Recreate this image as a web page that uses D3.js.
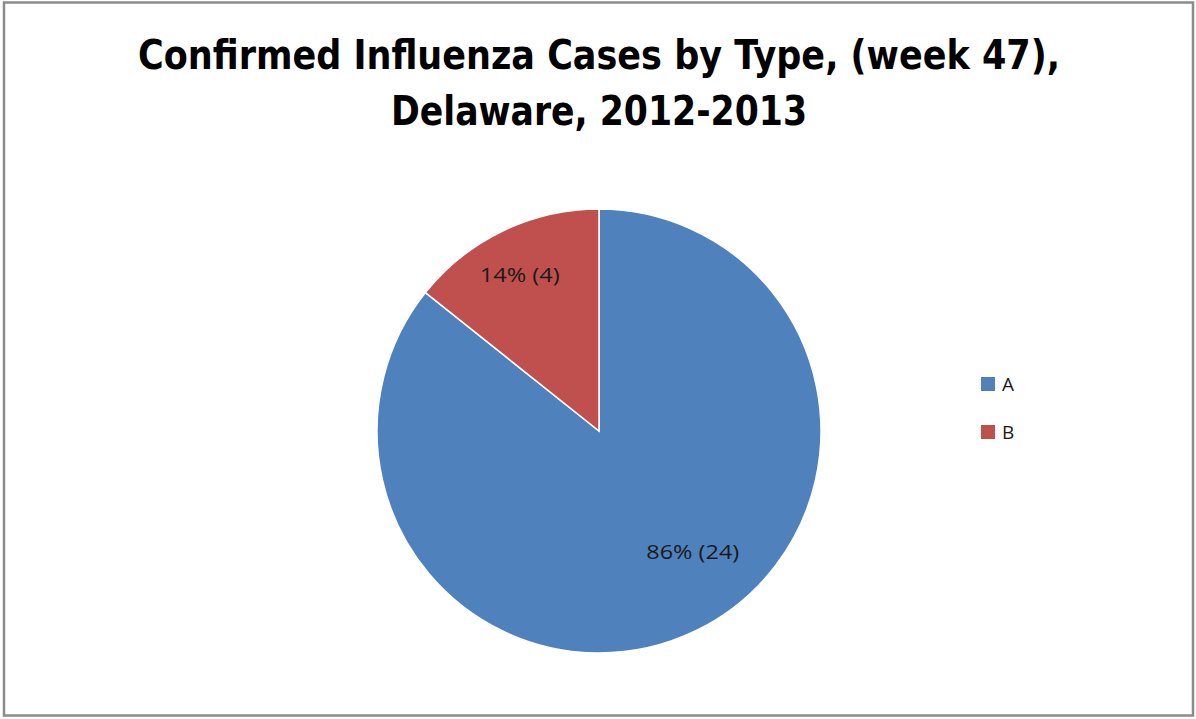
<!DOCTYPE html>
<html>
<head>
<meta charset="utf-8">
<script src="https://cdn.jsdelivr.net/npm/d3@7"></script>
<style>
  body { margin: 0; background: #fff; }
  svg { display: block; }
</style>
</head>
<body>
<svg id="chart" width="1196" height="719"></svg>
<script>
// chart values
const types = ['A', 'B'];
const cases = [24, 4];
const pctLabels = ['86% (24)', '14% (4)'];
const colors = ['#4F81BD', '#C0504D'];
const titleLines = ['Confirmed Influenza Cases by Type, (week 47),', 'Delaware, 2012-2013'];

const width = 1196, height = 719;
const svg = d3.select('#chart');

// outer frame
svg.append('rect')
  .attr('x', 4).attr('y', 2.5)
  .attr('width', 1189).attr('height', 713)
  .attr('fill', '#fff')
  .attr('stroke', '#8c8c8c')
  .attr('stroke-width', 2.5);

// title
const titleFont = '"Liberation Sans Narrow", "DejaVu Sans Condensed", "Open Sans", sans-serif';
const titleWidths = [922, 416];
svg.append('g').selectAll('text')
  .data(titleLines)
  .join('text')
  .attr('x', 599)
  .attr('y', (d, i) => 69 + i * 56)
  .attr('text-anchor', 'middle')
  .attr('font-family', titleFont)
  .attr('font-weight', 'bold')
  .attr('font-size', 41)
  .attr('fill', '#000')
  .attr('textLength', (d, i) => titleWidths[i])
  .attr('lengthAdjust', 'spacingAndGlyphs')
  .text(d => d);

// pie
const cx = 599, cy = 431, r = 222;
const pie = d3.pie().sort(null).value(d => d)(cases);
const arc = d3.arc().innerRadius(0).outerRadius(r);

const g = svg.append('g').attr('transform', `translate(${cx},${cy})`);
g.selectAll('path')
  .data(pie)
  .join('path')
  .attr('d', arc)
  .attr('fill', (d, i) => colors[i])
  .attr('stroke', '#fff')
  .attr('stroke-width', 1.5);

// data labels (Excel best fit-ish)
const labelRadius = [0.69, 0.79];
const labelTurn = [-0.21, -0.02];
const labelWidths = [93, 80];
g.selectAll('text.lbl')
  .data(pie)
  .join('text')
  .attr('class', 'lbl')
  .attr('transform', (d, i) => {
    const a = (d.startAngle + d.endAngle) / 2 + labelTurn[i];
    const rr = r * labelRadius[i];
    return `translate(${Math.sin(a) * rr},${-Math.cos(a) * rr})`;
  })
  .attr('text-anchor', 'middle')
  .attr('dy', '0.35em')
  .attr('font-family', '"Open Sans", "DejaVu Sans", sans-serif')
  .attr('font-size', 20)
  .attr('fill', '#1a1a1a')
  .attr('textLength', (d, i) => labelWidths[i])
  .attr('lengthAdjust', 'spacingAndGlyphs')
  .text((d, i) => pctLabels[i]);

// legend
const legend = svg.append('g').attr('transform', 'translate(981,377)');
const item = legend.selectAll('g')
  .data(types)
  .join('g')
  .attr('transform', (d, i) => `translate(0,${i * 48})`);
item.append('rect')
  .attr('width', 14).attr('height', 14)
  .attr('fill', (d, i) => colors[i]);
item.append('text')
  .attr('x', 21).attr('y', 7)
  .attr('dy', '0.35em')
  .attr('font-family', '"Open Sans", "DejaVu Sans", sans-serif')
  .attr('font-size', 19)
  .attr('fill', '#1a1a1a')
  .text(d => d);
</script>
</body>
</html>
